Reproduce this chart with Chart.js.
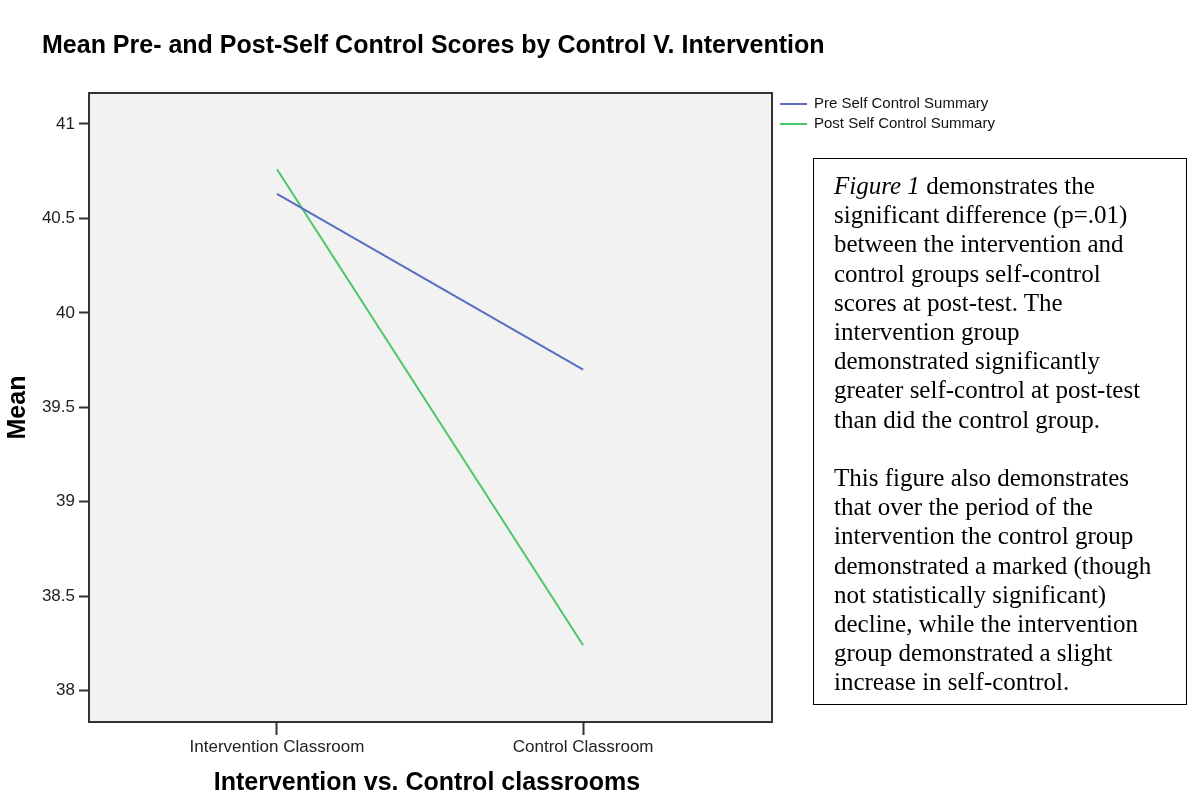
<!DOCTYPE html>
<html>
<head>
<meta charset="utf-8">
<script src="https://cdn.jsdelivr.net/npm/chart.js@4.4.1/dist/chart.umd.min.js"></script>
<style>
  html, body { margin: 0; padding: 0; background: #fff; }
  #wrap { position: relative; width: 1200px; height: 803px; }
  #note {
    position: absolute; left: 813px; top: 158px; width: 352px; height: 533px;
    border: 1.5px solid #000; padding: 12px 0 0 20px;
    font-family: "Liberation Serif", "Times New Roman", serif; font-size: 25px;
    line-height: 29.2px; color: #000; white-space: nowrap;
  }
</style>
</head>
<body>
<div id="wrap">
  <canvas id="chart" width="1200" height="803"></canvas>
  <div id="note">
    <i>Figure 1</i> demonstrates the<br>
    significant difference (p=.01)<br>
    between the intervention and<br>
    control groups self-control<br>
    scores at post-test. The<br>
    intervention group<br>
    demonstrated significantly<br>
    greater self-control at post-test<br>
    than did the control group.<br>
    <br>
    This figure also demonstrates<br>
    that over the period of the<br>
    intervention the control group<br>
    demonstrated a marked (though<br>
    not statistically significant)<br>
    decline, while the intervention<br>
    group demonstrated a slight<br>
    increase in self-control.
  </div>
</div>
<script>
var groups = ['Intervention Classroom', 'Control Classroom'];
var preScores = [40.63, 39.70];
var postScores = [40.76, 38.24];
var seriesNames = ['Pre Self Control Summary', 'Post Self Control Summary'];
var yTicks = [38, 38.5, 39, 39.5, 40, 40.5, 41];

var chartTitle = 'Mean Pre- and Post-Self Control Scores by Control V. Intervention';
var xTitle = 'Intervention vs. Control classrooms';
var yTitle = 'Mean';

function points(arr) {
  var out = [];
  for (var i in arr) out.push({x: Number(i), y: arr[i]});
  return out;
}

// frame, background, titles and legend in the SPSS look
var spssLook = {
  id: 'spssLook',
  beforeDraw: function(chart) {
    var c = chart.ctx, a = chart.chartArea;
    c.save();
    c.fillStyle = '#f2f2f2';
    c.fillRect(a.left, a.top, a.right - a.left, a.bottom - a.top);
    c.restore();
  },
  afterDraw: function(chart) {
    var c = chart.ctx, a = chart.chartArea;
    c.save();
    c.strokeStyle = '#333';
    c.lineWidth = 2;
    c.strokeRect(a.left, a.top, a.right - a.left, a.bottom - a.top);

    c.fillStyle = '#000';
    c.textBaseline = 'middle';
    c.font = 'bold 25px "Liberation Sans", Arial, sans-serif';
    c.textAlign = 'left';
    c.fillText(chartTitle, 42, 46);

    c.font = 'bold 25px "Liberation Sans", Arial, sans-serif';
    c.textAlign = 'center';
    c.fillText(xTitle, 427, 783);

    c.save();
    c.translate(18, (a.top + a.bottom) / 2);
    c.rotate(-Math.PI / 2);
    c.fillText(yTitle, 0, 0);
    c.restore();

    // legend
    c.font = '15px "Liberation Sans", Arial, sans-serif';
    c.textAlign = 'left';
    chart.data.datasets.forEach(function(ds, i) {
      var y = 104 + i * 20;
      c.strokeStyle = ds.borderColor;
      c.lineWidth = 2;
      c.beginPath();
      c.moveTo(780, y);
      c.lineTo(807, y);
      c.stroke();
      c.fillStyle = '#111';
      c.fillText(ds.label, 814, y);
    });
    c.restore();
  }
};

var ctx = document.getElementById('chart');
var chart = new Chart(ctx, {
  type: 'line',
  data: {
    datasets: [
      {
        label: seriesNames[0],
        data: points(preScores),
        borderColor: '#5a6ec0',
        borderWidth: 2,
        pointRadius: 0,
        tension: 0
      },
      {
        label: seriesNames[1],
        data: points(postScores),
        borderColor: '#48c868',
        borderWidth: 2,
        pointRadius: 0,
        tension: 0
      }
    ]
  },
  options: {
    responsive: false,
    animation: false,
    layout: { padding: { top: 93, right: 428, left: 0, bottom: 0 } },
    plugins: {
      legend: { display: false },
      tooltip: { enabled: false }
    },
    scales: {
      x: {
        type: 'linear',
        min: -0.614,
        max: 1.617,
        afterBuildTicks: function(scale) {
          scale.ticks = groups.map(function(g, i) { return {value: i}; });
        },
        afterFit: function(scale) { scale.height = 81; },
        ticks: {
          callback: function(v) { return groups[v]; },
          color: '#222',
          font: { family: '"Liberation Sans", Arial, sans-serif', size: 17 },
          padding: 2,
          maxRotation: 0
        },
        grid: { drawOnChartArea: false, tickLength: 13, tickColor: '#333', tickWidth: 2 },
        border: { display: false }
      },
      y: {
        min: 37.834,
        max: 41.164,
        afterBuildTicks: function(scale) {
          scale.ticks = yTicks.map(function(v) { return {value: v}; });
        },
        afterFit: function(scale) { scale.width = 89; },
        ticks: {
          callback: function(v) { return String(v); },
          color: '#222',
          font: { family: '"Liberation Sans", Arial, sans-serif', size: 17 },
          padding: 4
        },
        grid: { drawOnChartArea: false, tickLength: 10, tickColor: '#333', tickWidth: 2 },
        border: { display: false }
      }
    }
  },
  plugins: [spssLook]
});
</script>
</body>
</html>
